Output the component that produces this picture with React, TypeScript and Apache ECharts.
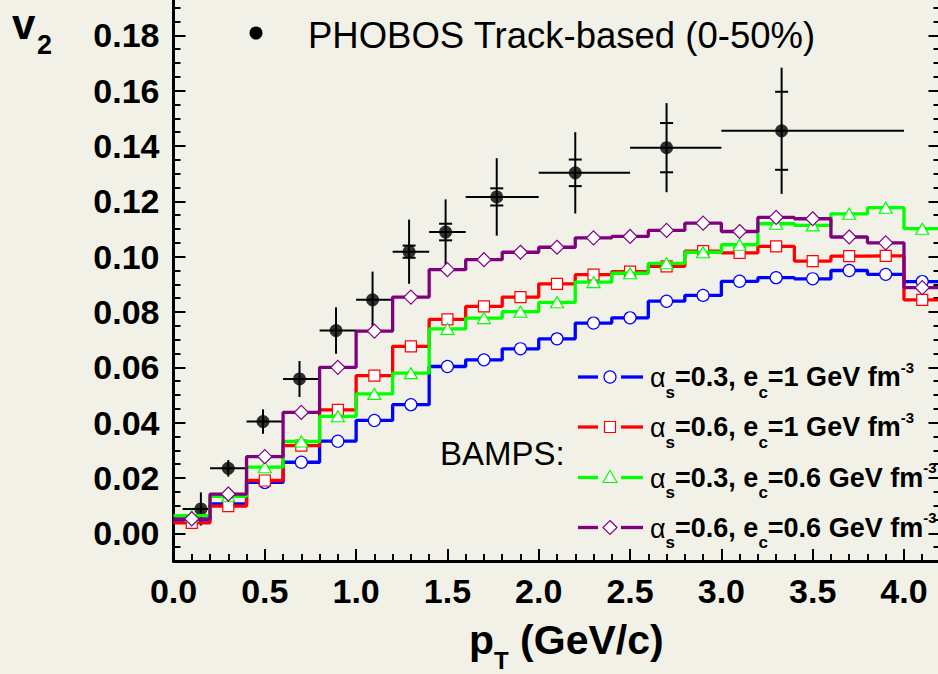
import React, { useEffect, useRef } from "react";
import * as echarts from "echarts";

// ---------------- data ----------------
const binCenters = [0.1, 0.3, 0.5, 0.7, 0.9, 1.1, 1.3, 1.5, 1.7, 1.9, 2.1, 2.3, 2.5, 2.7, 2.9, 3.1, 3.3, 3.5, 3.7, 3.9, 4.1];
const binHalfWidth = 0.1;

const bampsA03E1 = [0.0048, 0.0106, 0.0184, 0.0257, 0.0333, 0.0408, 0.0465, 0.0603, 0.0627, 0.0667, 0.0703, 0.076, 0.0779, 0.0839, 0.086, 0.0911, 0.0924, 0.092, 0.095, 0.0936, 0.091];
const bampsA06E1 = [0.0038, 0.0098, 0.0191, 0.0317, 0.0446, 0.057, 0.0676, 0.0773, 0.082, 0.0854, 0.0902, 0.0935, 0.0946, 0.0965, 0.102, 0.1014, 0.1037, 0.0984, 0.1002, 0.1003, 0.0844];
const bampsA03E06 = [0.0064, 0.0134, 0.0239, 0.0332, 0.0423, 0.0504, 0.0579, 0.0739, 0.0778, 0.0801, 0.0835, 0.0908, 0.094, 0.0976, 0.1016, 0.1043, 0.1119, 0.1113, 0.1155, 0.1177, 0.1101];
const bampsA06E06 = [0.0052, 0.0142, 0.0277, 0.0437, 0.06, 0.0731, 0.0854, 0.0953, 0.0989, 0.1016, 0.1034, 0.1068, 0.1073, 0.1095, 0.1121, 0.1091, 0.1142, 0.1137, 0.1071, 0.105, 0.0888];

const phobosPt = [0.15, 0.3, 0.49, 0.69, 0.89, 1.09, 1.29, 1.49, 1.77, 2.2, 2.7, 3.33];
const phobosV2 = [0.0088, 0.0235, 0.0404, 0.0558, 0.0733, 0.0844, 0.1018, 0.1089, 0.1216, 0.1303, 0.1394, 0.1455];
const phobosPtLow = [0.05, 0.2, 0.4, 0.6, 0.8, 1.0, 1.2, 1.4, 1.6, 2.0, 2.5, 3.0];
const phobosPtHigh = [0.2, 0.4, 0.6, 0.8, 1.0, 1.2, 1.4, 1.6, 2.0, 2.5, 3.0, 4.0];
const phobosSysErr = [0.006, 0.003, 0.0044, 0.0065, 0.0084, 0.0102, 0.0116, 0.0118, 0.014, 0.0147, 0.0161, 0.0228];
const phobosStatErr = [0, 0, 0, 0, 0, 0, 0.0022, 0.003, 0.0031, 0.0048, 0.0089, 0.0141];

const xTickLabels = [0, 0.5, 1.0, 1.5, 2.0, 2.5, 3.0, 3.5, 4.0];
const yTickLabels = [0, 0.02, 0.04, 0.06, 0.08, 0.1, 0.12, 0.14, 0.16, 0.18];

const seriesNames = [
  "αs=0.3, ec=1 GeV fm-3",
  "αs=0.6, ec=1 GeV fm-3",
  "αs=0.3, ec=0.6 GeV fm-3",
  "αs=0.6, ec=0.6 GeV fm-3",
];
const alphaLabels = ["0.3", "0.6", "0.3", "0.6"];
const ecLabels = ["1", "1", "0.6", "0.6"];

// ---------------- style ----------------
const BG = "#f2f1e7";
const FONT = '"Liberation Sans", Arial, Helvetica, sans-serif';
const COLORS = ["#0000ff", "#ff0000", "#00ff00", "#800080"];
const SYMBOLS = ["circle", "rect", "triangle", "diamond"];
const SYMBOL_SIZES = [12, 11, [13, 11], 14];

const X_MIN = 0, X_MAX = 4.2, Y_MIN = -0.01, Y_MAX = 0.2;

function range(from: number, to: number, step: number, digits: number) {
  const out: number[] = [];
  const n = Math.round((to - from) / step);
  for (let i = 0; i <= n; i++) out.push(Number((from + i * step).toFixed(digits)));
  return out;
}

const xMinor = range(0, 4.2, 0.1, 2);
const yMinor = range(-0.01, 0.2, 0.005, 4);

let measureCtx: CanvasRenderingContext2D | null = null;
function textWidth(t: string, size: number, bold: boolean) {
  if (!measureCtx) measureCtx = document.createElement("canvas").getContext("2d");
  measureCtx!.font = `${bold ? "bold " : ""}${size}px ${FONT}`;
  return measureCtx!.measureText(t).width;
}

type Piece = { t: string; size: number; bold: boolean; dy: number };
function textRun(x: number, y: number, pieces: Piece[]) {
  const els: any[] = [];
  let cx = x;
  for (const p of pieces) {
    els.push({
      type: "text",
      x: cx,
      y: y + p.dy,
      z: 100,
      style: {
        text: p.t,
        fill: "#000",
        fontSize: p.size,
        fontWeight: p.bold ? "bold" : "normal",
        fontFamily: FONT,
        align: "left",
        textAlign: "left",
        verticalAlign: "middle",
        textVerticalAlign: "middle",
      },
    });
    cx += textWidth(p.t, p.size, p.bold);
  }
  return els;
}

function legendMarker(kind: number, cx: number, cy: number, color: string) {
  const style = { fill: "#ffffff", stroke: color, lineWidth: 1.2 };
  if (kind === 0) return { type: "circle", z: 101, shape: { cx, cy, r: 6 }, style };
  if (kind === 1) return { type: "rect", z: 101, shape: { x: cx - 5.5, y: cy - 5.5, width: 11, height: 11 }, style };
  if (kind === 2)
    return { type: "polygon", z: 101, shape: { points: [[cx, cy - 7], [cx + 7, cy + 5], [cx - 7, cy + 5]] }, style };
  return { type: "polygon", z: 101, shape: { points: [[cx, cy - 7], [cx + 7, cy], [cx, cy + 7], [cx - 7, cy]] }, style };
}

function stepData(vals: number[]) {
  const d: any[] = [{ value: [binCenters[0] - binHalfWidth, vals[0]], symbol: "none" }];
  vals.forEach((v, i) => d.push([binCenters[i], v]));
  const last = binCenters.length - 1;
  d.push({ value: [binCenters[last] + binHalfWidth, vals[last]], symbol: "none" });
  return d;
}

export default function App() {
  const ref = useRef<HTMLDivElement>(null);

  useEffect(() => {
    if (!ref.current) return;
    const chart = echarts.init(ref.current, null, { renderer: "svg" });

    const bamps = [bampsA03E1, bampsA06E1, bampsA03E06, bampsA06E06];

    const phobosRows = phobosPt.map((x, i) => [x, phobosV2[i], phobosPtLow[i], phobosPtHigh[i], phobosSysErr[i], phobosStatErr[i]]);

    const graphics: any[] = [];
    // y title
    graphics.push(...textRun(12, 24, [{ t: "v", size: 42, bold: true, dy: 0 }]));
    graphics.push(...textRun(37, 45, [{ t: "2", size: 27, bold: true, dy: 0 }]));
    // x title
    graphics.push(
      ...textRun(469, 640, [
        { t: "p", size: 41, bold: true, dy: 0 },
        { t: "T", size: 24, bold: true, dy: 20 },
        { t: " (GeV/c)", size: 41, bold: true, dy: 0 },
      ])
    );
    // PHOBOS legend
    graphics.push({ type: "circle", z: 101, shape: { cx: 256, cy: 33, r: 6.5 }, style: { fill: "#000" } });
    graphics.push(...textRun(308, 35, [{ t: "PHOBOS Track-based (0-50%)", size: 36.5, bold: false, dy: 0 }]));
    // BAMPS legend
    graphics.push(...textRun(440, 453, [{ t: "BAMPS:", size: 33, bold: false, dy: 0 }]));
    const legendY = [377, 427, 477.5, 527.5];
    legendY.forEach((ly, i) => {
      const c = COLORS[i];
      graphics.push({ type: "line", z: 100, shape: { x1: 578, y1: ly, x2: 598, y2: ly }, style: { stroke: c, lineWidth: 3.3 } });
      graphics.push({ type: "line", z: 100, shape: { x1: 621, y1: ly, x2: 643, y2: ly }, style: { stroke: c, lineWidth: 3.3 } });
      graphics.push(legendMarker(i, 610, ly, c));
      graphics.push(
        ...textRun(650, ly, [
          { t: "α", size: 27, bold: false, dy: 1 },
          { t: "s", size: 17, bold: true, dy: 15 },
          { t: `=${alphaLabels[i]}, e`, size: 27, bold: true, dy: 0 },
          { t: "c", size: 17, bold: true, dy: 15 },
          { t: `=${ecLabels[i]} GeV fm`, size: 27, bold: true, dy: 0 },
          { t: "-3", size: 15, bold: true, dy: -10 },
        ])
      );
    });

    const axisBase = {
      type: "value",
      splitLine: { show: false },
    };

    const option: any = {
      animation: false,
      backgroundColor: BG,
      grid: { left: 173.5, right: -2.5, top: -20, bottom: 113, outerBoundsMode: "none", containLabel: false },
      xAxis: [
        {
          ...axisBase,
          min: X_MIN,
          max: X_MAX,
          position: "bottom",
          axisLine: { show: true, onZero: false, lineStyle: { color: "#000", width: 3 } },
          axisTick: { show: true, inside: true, length: 12, lineStyle: { color: "#000", width: 2 }, customValues: xTickLabels },
          axisLabel: {
            show: true,
            customValues: xTickLabels,
            formatter: (v: number) => v.toFixed(1),
            color: "#000",
            fontSize: 34,
            fontWeight: "bold",
            fontFamily: FONT,
            margin: 13,
          },
        },
        {
          ...axisBase,
          min: X_MIN,
          max: X_MAX,
          position: "bottom",
          axisLine: { show: false, onZero: false },
          axisTick: { show: true, inside: true, length: 7, lineStyle: { color: "#000", width: 2 }, customValues: xMinor },
          axisLabel: { show: false },
        },
      ],
      yAxis: [
        {
          ...axisBase,
          min: Y_MIN,
          max: Y_MAX,
          position: "left",
          axisLine: { show: true, onZero: false, lineStyle: { color: "#000", width: 3 } },
          axisTick: { show: true, inside: true, length: 12, lineStyle: { color: "#000", width: 2 }, customValues: yTickLabels },
          axisLabel: {
            show: true,
            customValues: yTickLabels,
            formatter: (v: number) => v.toFixed(2),
            color: "#000",
            fontSize: 34,
            fontWeight: "bold",
            fontFamily: FONT,
            margin: 14,
          },
        },
        {
          ...axisBase,
          min: Y_MIN,
          max: Y_MAX,
          position: "left",
          axisLine: { show: false, onZero: false },
          axisTick: { show: true, inside: true, length: 7, lineStyle: { color: "#000", width: 2 }, customValues: yMinor },
          axisLabel: { show: false },
        },
        {
          ...axisBase,
          min: Y_MIN,
          max: Y_MAX,
          position: "right",
          axisLine: { show: true, onZero: false, lineStyle: { color: "#000", width: 3 } },
          axisTick: { show: true, inside: true, length: 12, lineStyle: { color: "#000", width: 2 }, customValues: yTickLabels },
          axisLabel: { show: false },
        },
        {
          ...axisBase,
          min: Y_MIN,
          max: Y_MAX,
          position: "right",
          axisLine: { show: false, onZero: false },
          axisTick: { show: true, inside: true, length: 7, lineStyle: { color: "#000", width: 2 }, customValues: yMinor },
          axisLabel: { show: false },
        },
      ],
      graphic: { elements: graphics },
      series: [
        {
          name: "PHOBOS errors",
          type: "custom",
          xAxisIndex: 0,
          yAxisIndex: 0,
          data: phobosRows,
          encode: { x: 0, y: 1 },
          z: 3,
          renderItem: (params: any, api: any) => {
            const x = api.value(0), y = api.value(1), xl = api.value(2), xh = api.value(3), sys = api.value(4), st = api.value(5);
            const pl = api.coord([xl, y]);
            const ph = api.coord([xh, y]);
            const pt = api.coord([x, y + sys]);
            const pb = api.coord([x, y - sys]);
            const c1 = api.coord([x, y + st]);
            const c2 = api.coord([x, y - st]);
            const style = { stroke: "#000", lineWidth: 2, fill: "none" };
            const children: any[] = [
              { type: "line", shape: { x1: pl[0], y1: pl[1], x2: ph[0], y2: ph[1] }, style },
              { type: "line", shape: { x1: pt[0], y1: pt[1], x2: pb[0], y2: pb[1] }, style },
            ];
            if (st > 0) {
              children.push({ type: "line", shape: { x1: c1[0] - 6.5, y1: c1[1], x2: c1[0] + 6.5, y2: c1[1] }, style });
              children.push({ type: "line", shape: { x1: c2[0] - 6.5, y1: c2[1], x2: c2[0] + 6.5, y2: c2[1] }, style });
            }
            return { type: "group", children };
          },
        },
        {
          name: "PHOBOS Track-based (0-50%)",
          type: "scatter",
          xAxisIndex: 0,
          yAxisIndex: 0,
          data: phobosPt.map((x, i) => [x, phobosV2[i]]),
          symbol: "circle",
          symbolSize: 13,
          itemStyle: { color: "#000" },
          z: 4,
        },
        ...bamps.map((vals, i) => ({
          name: seriesNames[i],
          type: "line",
          xAxisIndex: 0,
          yAxisIndex: 0,
          step: "middle",
          data: stepData(vals),
          symbol: SYMBOLS[i],
          symbolSize: SYMBOL_SIZES[i],
          showSymbol: true,
          showAllSymbol: true,
          lineStyle: { color: COLORS[i], width: 3.3 },
          itemStyle: { color: "#ffffff", borderColor: COLORS[i], borderWidth: 1.2 },
          z: 5 + i,
        })),
      ],
    };

    chart.setOption(option);
    return () => chart.dispose();
  }, []);

  return (
    <div
      ref={ref}
      style={{ position: "absolute", left: 0, top: 0, width: 938, height: 674, background: BG }}
    />
  );
}
